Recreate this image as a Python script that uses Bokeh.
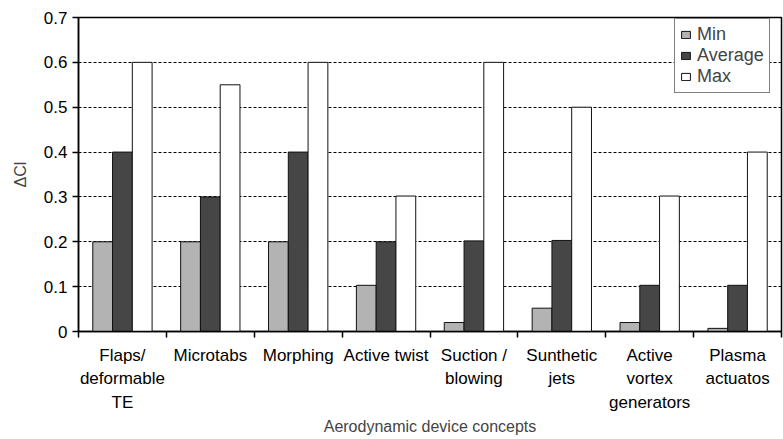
from bokeh.plotting import figure
from bokeh.models import FixedTicker, Legend, LegendItem, ColumnDataSource
from bokeh.embed import file_html
from bokeh.resources import INLINE

categories = ["Flaps/\ndeformable\nTE", "Microtabs", "Morphing", "Active twist",
              "Suction /\nblowing", "Sunthetic\njets", "Active\nvortex\ngenerators",
              "Plasma\nactuatos"]
min_vals = [0.2, 0.2, 0.2, 0.103, 0.02, 0.052, 0.02, 0.007]
avg_vals = [0.4, 0.3, 0.4, 0.2, 0.202, 0.203, 0.103, 0.103]
max_vals = [0.6, 0.55, 0.6, 0.302, 0.6, 0.5, 0.302, 0.4]
series_names = ["Min", "Average", "Max"]
series_colors = ["#b3b3b3", "#464646", "#ffffff"]
y_ticks = [0, 0.1, 0.2, 0.3, 0.4, 0.5, 0.6, 0.7]

FONT = "Liberation Sans"
FS = "17px"
n = len(categories)
centers = [i + 0.5 for i in range(n)]
bw = 0.225

p = figure(width=783, height=439, output_backend="svg", toolbar_location=None,
           x_range=(0, n), y_range=(0, 0.7),
           min_border_left=78, min_border_top=17, min_border_right=2, min_border_bottom=108)

renderers = []
for k, (vals, col) in enumerate(zip([min_vals, avg_vals, max_vals], series_colors)):
    src = ColumnDataSource(dict(x=[c + (k - 1) * bw for c in centers], top=vals))
    r = p.vbar(x="x", top="top", width=bw, bottom=0, source=src,
               fill_color=col, line_color="#111111", line_width=1)
    renderers.append(r)

# axes
xa = p.xaxis[0]
xa.ticker = FixedTicker(ticks=centers, minor_ticks=list(range(n + 1)))
xa.major_label_overrides = {c: lab for c, lab in zip(centers, categories)}
xa.major_tick_line_color = None
xa.minor_tick_in = 0
xa.minor_tick_out = 6
xa.minor_tick_line_color = "black"
xa.minor_tick_line_width = 1.5
xa.axis_line_color = "black"
xa.axis_line_width = 1.5
xa.major_label_text_font = FONT
xa.major_label_text_font_size = FS
xa.major_label_text_color = "black"
xa.major_label_text_line_height = 1.25
xa.major_label_standoff = 8
xa.axis_label = "Aerodynamic device concepts"
xa.axis_label_text_font = FONT
xa.axis_label_text_font_size = "16px"
xa.axis_label_text_font_style = "normal"
xa.axis_label_standoff = 3

ya = p.yaxis[0]
ya.ticker = FixedTicker(ticks=y_ticks, minor_ticks=[])
ya.major_label_overrides = {t: ("0" if t == 0 else f"{t:.1f}") for t in y_ticks}
ya.major_tick_in = 0
ya.major_tick_out = 6
ya.major_tick_line_width = 1.5
ya.axis_line_width = 1.5
ya.axis_line_color = "black"
ya.major_label_text_font = FONT
ya.major_label_text_font_size = FS
ya.major_label_text_color = "black"
ya.major_label_standoff = 5
ya.axis_label = "\u0394Cl"
ya.axis_label_text_font = FONT
ya.axis_label_text_font_size = "16px"
ya.axis_label_text_font_style = "normal"
ya.axis_label_standoff = 12

p.xgrid.grid_line_color = None
p.ygrid.grid_line_color = "black"
p.ygrid.grid_line_dash = "3 2"
p.ygrid.grid_line_width = 1
p.ygrid.ticker = FixedTicker(ticks=[0.1, 0.2, 0.3, 0.4, 0.5, 0.6])

p.outline_line_color = "black"
p.outline_line_width = 1.5
p.background_fill_color = "white"
p.border_fill_color = "white"

legend = Legend(items=[LegendItem(label=nm, renderers=[r]) for nm, r in zip(series_names, renderers)],
                location=(596, 238))
legend.label_text_font = FONT
legend.label_text_font_size = "18px"
legend.label_height = 16
legend.glyph_height = 9
legend.glyph_width = 11
legend.spacing = 0
legend.padding = 5
legend.margin = 0
legend.label_standoff = 6
legend.border_line_color = "black"
legend.border_line_width = 1
legend.background_fill_alpha = 1
p.add_layout(legend, "center")

open("out.html", "w").write(file_html(p, INLINE))
